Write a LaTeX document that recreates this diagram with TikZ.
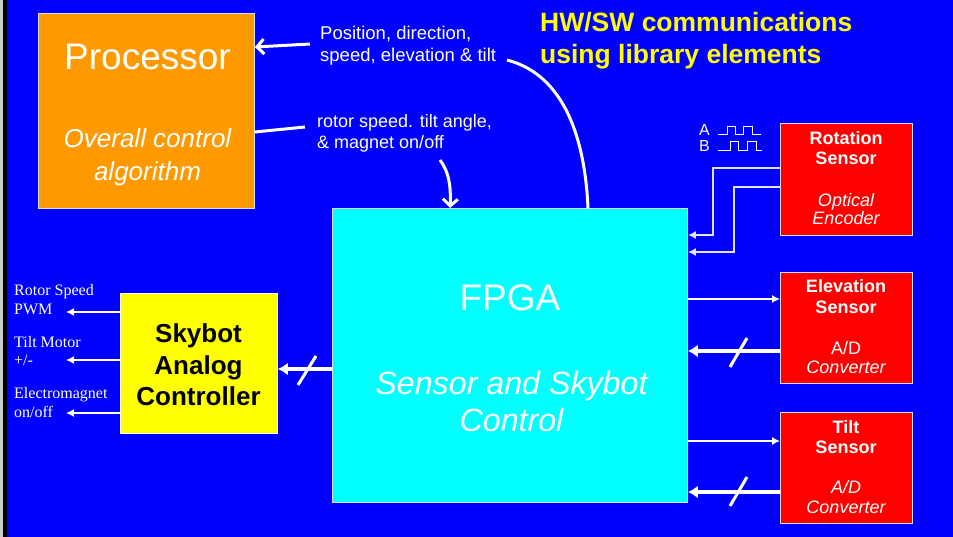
\documentclass[tikz,border=0pt]{standalone}
\usepackage{fontspec}
\setmainfont{Liberation Sans}
\newfontfamily\seriffam{Liberation Serif}
\usetikzlibrary{arrows.meta,calc}
\definecolor{bgblue}{RGB}{0,0,255}
\definecolor{procorange}{RGB}{255,153,0}
\definecolor{fpgacyan}{RGB}{0,255,255}
\definecolor{ctlyellow}{RGB}{255,255,0}
\definecolor{sensred}{RGB}{255,0,0}
\definecolor{titleyellow}{RGB}{255,255,0}
\definecolor{edgegray}{RGB}{220,220,230}
\definecolor{lavline}{RGB}{225,225,255}
\newcommand{\fs}[1]{\fontsize{#1}{#1}\selectfont}
\begin{document}
\begin{tikzpicture}[x=1pt,y=-1pt,
  box/.style={draw=edgegray, line width=0.9pt, inner sep=0pt, anchor=north west},
  txt/.style={inner sep=0pt, anchor=base, text=white},
  ltxt/.style={inner sep=0pt, anchor=base west, text=white},
  thinarr/.style={draw=white, line width=1.3pt, -{Latex[length=8pt,width=8pt]}},
  rotarr/.style={draw=lavline, line width=1.3pt, -{Latex[length=8pt,width=8pt]}},
  busarr/.style={draw=white, line width=3.5pt, -{Latex[length=10pt,width=13pt]}},
  barbarr/.style={draw=white, line width=3pt, -{Straight Barb[length=7pt,width=15pt]}},
  thickline/.style={draw=white, line width=3pt},
  slash/.style={draw=white, line width=3pt},
  wave/.style={draw=white, line width=1pt}
]
% background and left edge
\fill[bgblue] (0,0) rectangle (953,537);
\useasboundingbox (0,0) rectangle (953,537);
\fill[gray!40] (0,0) rectangle (2.5,537);
\fill[black] (2.5,0) rectangle (6.5,537);

% boxes
\node[box, fill=procorange, minimum width=216pt, minimum height=195pt] (proc) at (38,13) {};
\node[box, fill=fpgacyan, minimum width=355pt, minimum height=294pt] (fpga) at (332,208) {};
\node[box, draw=white, fill=ctlyellow, minimum width=157pt, minimum height=140pt] (sac) at (120,293) {};
\node[box, fill=sensred, minimum width=132pt, minimum height=112pt] (rot) at (780,123) {};
\node[box, fill=sensred, minimum width=132pt, minimum height=111pt] (elev) at (780,272) {};
\node[box, fill=sensred, minimum width=132pt, minimum height=111pt] (tilt) at (780,412) {};

% processor text
\node[txt, font=\fs{37}] (ptitle) at (147.5,70) {Processor};
\node[txt, font=\fs{26}\itshape] (pl1) at (147.5,148) {Overall control};
\node[txt, font=\fs{26}\itshape] (pl2) at (147.5,181) {algorithm};

% FPGA text
\node[txt, font=\fs{37}] (ftitle) at (510,310) {FPGA};
\node[txt, font=\fs{32.2}\itshape] (fl1) at (511.5,394) {Sensor and Skybot};
\node[txt, font=\fs{32.2}\itshape] (fl2) at (511.5,431) {Control};

% Skybot controller text
\node[txt, text=black, font=\fs{26}\bfseries] (s1) at (198.5,342) {Skybot};
\node[txt, text=black, font=\fs{26}\bfseries] (s2) at (198.5,374) {Analog};
\node[txt, text=black, font=\fs{26}\bfseries] (s3) at (198.5,405) {Controller};

% sensor texts
\node[txt, font=\fs{18}\bfseries] (r1) at (846,145) {Rotation};
\node[txt, font=\fs{18}\bfseries] (r2) at (846,165) {Sensor};
\node[txt, font=\fs{18}\itshape] (r3) at (846,207) {Optical};
\node[txt, font=\fs{18}\itshape] (r4) at (846,225) {Encoder};

\node[txt, font=\fs{18}\bfseries] (e1) at (846,293) {Elevation};
\node[txt, font=\fs{18}\bfseries] (e2) at (846,313) {Sensor};
\node[txt, font=\fs{18}] (e3) at (846,354) {A/D};
\node[txt, font=\fs{18}\itshape] (e4) at (846,373) {Converter};

\node[txt, font=\fs{18}\bfseries] (t1) at (846,433) {Tilt};
\node[txt, font=\fs{18}\bfseries] (t2) at (846,453) {Sensor};
\node[txt, font=\fs{18}\itshape] (t3) at (846,493) {A/D};
\node[txt, font=\fs{18}\itshape] (t4) at (846,513) {Converter};

% title
\node[ltxt, text=titleyellow, font=\fs{26.5}\bfseries] (h1) at (540,32) {HW/SW communications};
\node[ltxt, text=titleyellow, font=\fs{26.5}\bfseries] (h2) at (540,64) {using library elements};

% communication labels
\node[ltxt, font=\fs{18.5}] (c1) at (320,40) {Position, direction,};
\node[ltxt, font=\fs{18.5}] (c2) at (320,62) {speed, elevation \& tilt};
\node[ltxt, font=\fs{18}] (c3) at (317,128) {rotor speed. tilt angle,};
\node[ltxt, font=\fs{18}] (c4) at (317,149) {\& magnet on/off};

% left output labels
\node[ltxt, font=\seriffam\fs{16}] (o1a) at (14,296) {Rotor Speed};
\node[ltxt, font=\seriffam\fs{16}] (o1b) at (14,315) {PWM};
\node[ltxt, font=\seriffam\fs{16}] (o2a) at (14,347) {Tilt Motor};
\node[ltxt, font=\seriffam\fs{16}] (o2b) at (14,365) {+/-};
\node[ltxt, font=\seriffam\fs{16}] (o3a) at (14,398) {Electromagnet};
\node[ltxt, font=\seriffam\fs{16}] (o3b) at (14,417) {on/off};

% waveform labels
\node[ltxt, font=\fs{16}] (wa) at (699,136) {A};
\node[ltxt, font=\fs{16}] (wb) at (699,152) {B};
\draw[wave] (718,135) -- (727,135) -- (727,127) -- (735,127) -- (735,135) -- (743,135) -- (743,127) -- (752,127) -- (752,135) -- (761,135);
\draw[wave] (718,151) -- (730,151) -- (730,142) -- (738,142) -- (738,151) -- (747,151) -- (747,142) -- (756,142) -- (756,151) -- (762,151);

% free-end coordinates
\coordinate (posfrom) at (310,44);
\coordinate (rotfrom) at (305,127);
\coordinate (downfrom) at (440,160);
\coordinate (tiltfrom) at (507,60);
\coordinate (out1) at (66,312);
\coordinate (out2) at (66,360);
\coordinate (out3) at (66,413);

% processor <-> FPGA communications
\draw[barbarr] (posfrom) -- (proc.east |- 0,47);
\draw[thickline] (proc.east |- 0,132) -- (rotfrom);
\draw[barbarr] (downfrom) .. controls (449,172) and (451,186) .. (fpga.north -| 450,0);
\draw[thickline] (tiltfrom) .. controls (565,75) and (585,140) .. (fpga.north -| 588,0);

% controller outputs
\draw[thinarr] (sac.west |- out1) -- (out1);
\draw[thinarr] (sac.west |- out2) -- (out2);
\draw[thinarr] (sac.west |- out3) -- (out3);

% FPGA -> controller bus
\draw[busarr] (fpga.west |- 0,369) -- (sac.east |- 0,369);
\draw[slash] (298,385) -- (316,356);

% rotation sensor -> FPGA
\draw[rotarr] (rot.west |- 0,168) -- (713,168) -- (713,235) -- (fpga.east |- 0,235);
\draw[rotarr] (rot.west |- 0,187) -- (734,187) -- (734,252) -- (fpga.east |- 0,252);

% elevation
\draw[thinarr] (fpga.east |- 0,299) -- (elev.west |- 0,299);
\draw[busarr] (elev.west |- 0,351) -- (fpga.east |- 0,351);
\draw[slash] (730,367) -- (747,338);

% tilt
\draw[thinarr] (fpga.east |- 0,441) -- (tilt.west |- 0,441);
\draw[busarr] (tilt.west |- 0,492) -- (fpga.east |- 0,492);
\draw[slash] (730,506) -- (747,477);
\end{tikzpicture}
\end{document}
